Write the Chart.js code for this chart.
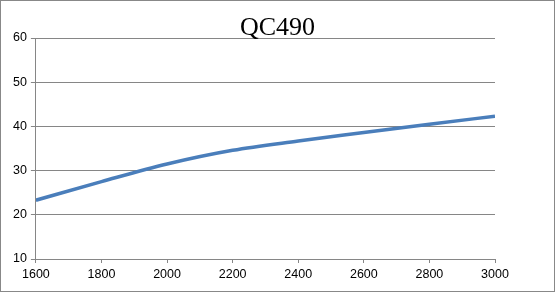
<!DOCTYPE html>
<html>
<head>
<meta charset="utf-8">
<script src="https://cdn.jsdelivr.net/npm/chart.js@4/dist/chart.umd.min.js"></script>
<style>
  body { margin: 0; background: #fff; }
  #marco { position: absolute; left: 0; top: 0; width: 555px; height: 292px; box-sizing: border-box; border: 1px solid #888; }
  #grafico { display: block; }
</style>
</head>
<body>
<div id="marco"><canvas id="grafico" width="553" height="290"></canvas></div>
<script>
const potencias = [1600, 1800, 2000, 2200, 2400, 2600, 2800, 3000];
const valores = [23.3, 27.5, 31.5, 34.6, 36.7, 38.6, 40.5, 42.3];
const titulo = "QC490";

const puntos = potencias.map((x, i) => ({ x: x, y: valores[i] }));

const fuenteEjes = { family: "'Liberation Sans', Arial, sans-serif", size: 12.5 };

// titulo centrado sobre todo el lienzo (como en Excel)
const tituloCentrado = {
  id: 'tituloCentrado',
  afterDraw(chart) {
    const ctx = chart.ctx;
    ctx.save();
    ctx.font = "26px 'Liberation Serif', 'Times New Roman', serif";
    ctx.fillStyle = '#000';
    ctx.textAlign = 'center';
    ctx.textBaseline = 'alphabetic';
    ctx.fillText(titulo, chart.width / 2, 34);
    ctx.restore();
  }
};

new Chart(document.getElementById('grafico'), {
  type: 'line',
  data: {
    datasets: [{
      label: titulo,
      data: puntos,
      borderColor: '#4A7EBB',
      borderWidth: 3.5,
      pointRadius: 0,
      fill: false,
      cubicInterpolationMode: 'monotone'
    }]
  },
  options: {
    responsive: false,
    animation: false,
    layout: { padding: { left: 8, right: 59, top: 37, bottom: 5 } },
    plugins: {
      legend: { display: false },
      tooltip: { enabled: false },
      title: { display: false }
    },
    scales: {
      x: {
        type: 'linear',
        min: 1600,
        max: 3000,
        ticks: { stepSize: 200, color: '#000', font: fuenteEjes, padding: 4, maxRotation: 0,
                 callback: v => String(v) },
        grid: { drawOnChartArea: false, drawTicks: true, tickLength: 4, color: '#868686' },
        border: { color: '#868686' }
      },
      y: {
        min: 10,
        max: 60,
        ticks: { stepSize: 10, color: '#000', font: fuenteEjes, padding: 4 },
        grid: { color: '#868686', tickLength: 5 },
        border: { color: '#868686' }
      }
    }
  },
  plugins: [tituloCentrado]
});
</script>
</body>
</html>
